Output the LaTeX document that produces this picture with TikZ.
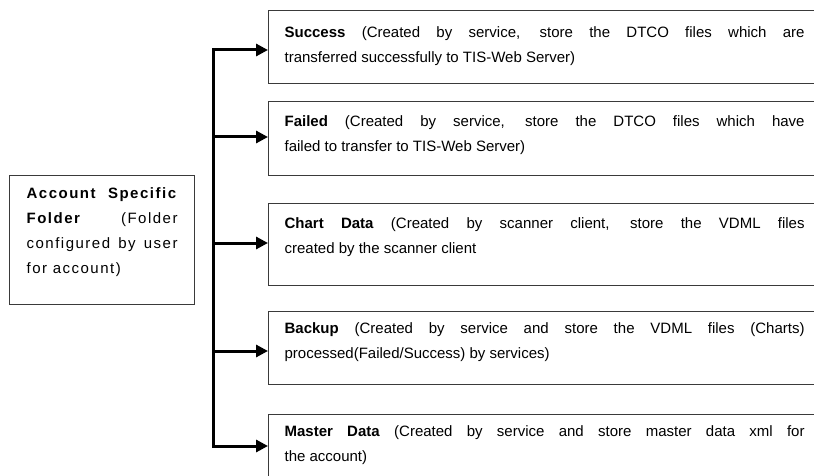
\documentclass[tikz,border=0pt]{standalone}
\usepackage{fontspec}
\setmainfont{Liberation Sans}
\usepackage{tikz}
\usetikzlibrary{arrows.meta,positioning}
\definecolor{foldline}{HTML}{3A3A3A}
\tolerance=10000
\hbadness=10000

\begin{document}
\begin{tikzpicture}[
  x=1pt,y=-1pt,
  txt/.style={font=\fontsize{15}{25}\selectfont},
  acct/.style={draw=foldline,line width=1.2pt,anchor=north west,text width=151pt,inner xsep=17pt,inner ysep=0pt,align=justify,font=\fontsize{15}{25}\selectfont\addfontfeature{LetterSpace=10}},
  folder/.style={draw=foldline,line width=1.2pt,anchor=north west,text width=520pt,inner xsep=16pt,inner ysep=0pt,align=justify,text height=26pt,txt},
  arr/.style={-{Triangle[length=12pt,width=12pt]},line width=3pt}
]
\path[use as bounding box,fill=white] (0,0) rectangle (814,476);
\node[acct,text height=23pt,text depth=106pt] (acc) at (9,175) {\textbf{Account Specific}\linebreak \textbf{Folder} (Folder\linebreak configured by user\linebreak for account)};
\node[folder,text height=27pt,text depth=46pt] (succ) at (268,10) {\textbf{Success} (Created by service, store the DTCO files which are\linebreak transferred successfully to TIS-Web Server)};
\node[folder,text height=25pt,text depth=49pt] (fail) at (268,101) {\textbf{Failed} (Created by service, store the DTCO files which have\linebreak failed to transfer to TIS-Web Server)};
\node[folder,text height=25pt,text depth=57pt] (chart) at (268,203) {\textbf{Chart Data} (Created by scanner client, store the VDML files\linebreak created by the scanner client};
\node[folder,text height=22pt,text depth=51pt] (back) at (268,311) {\textbf{Backup} (Created by service and store the VDML files (Charts)\linebreak processed(Failed/Success) by services)};
\node[folder,text height=22pt,text depth=64pt] (mast) at (268,414) {\textbf{Master Data} (Created by service and store master data xml for\linebreak the account)};
\coordinate (j1) at (213,50);
\coordinate (j2) at (213,137);
\coordinate (j3) at (213,243);
\coordinate (j4) at (213,351);
\coordinate (j5) at (213,446);
\draw[arr] (j3) -- (j1) -- (j1 -| succ.west);
\draw[arr] (j2) -- (j2 -| fail.west);
\draw[arr] (j3) -- (j3 -| chart.west);
\draw[arr] (j4) -- (j4 -| back.west);
\draw[arr] (j3) -- (j5) -- (j5 -| mast.west);
\end{tikzpicture}
\end{document}
